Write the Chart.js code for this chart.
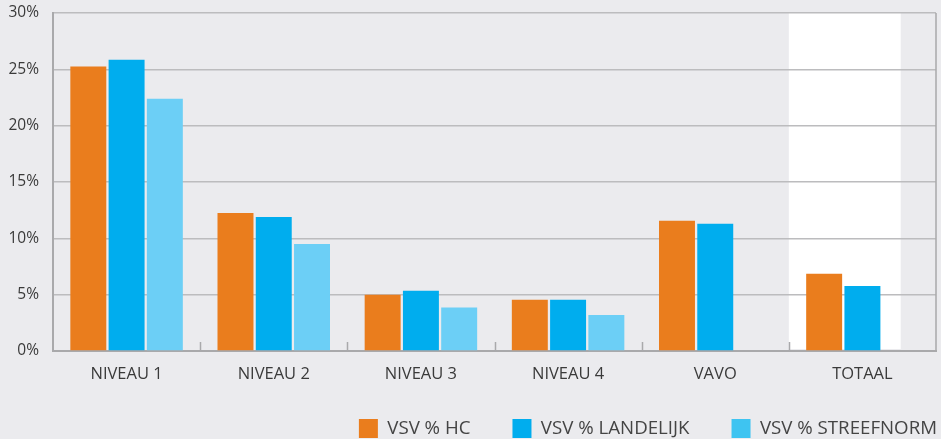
<!DOCTYPE html>
<html>
<head>
<meta charset="utf-8">
<script src="https://cdn.jsdelivr.net/npm/chart.js@4/dist/chart.umd.min.js"></script>
<style>
  html, body { margin: 0; padding: 0; background: #ebebee; }
  #wrap { width: 941px; height: 439px; position: relative; }
</style>
</head>
<body>
<div id="wrap"><canvas id="c" width="941" height="439"></canvas></div>
<script>
const categories = ['NIVEAU 1', 'NIVEAU 2', 'NIVEAU 3', 'NIVEAU 4', 'VAVO', 'TOTAAL'];
const seriesNames = ['VSV % HC', 'VSV % LANDELIJK', 'VSV % STREEFNORM'];
const vsvHC = [25.25, 12.25, 5.0, 4.55, 11.55, 6.85];
const vsvLandelijk = [25.85, 11.9, 5.35, 4.55, 11.3, 5.78];
const vsvStreefnorm = [22.4, 9.5, 3.85, 3.2, null, null];
const yTicks = [0, 5, 10, 15, 20, 25, 30];
const highlightCategory = 'TOTAAL';

const barColors = ['#ea7d1d', '#00adee', '#6ccff6'];
const legendColors = ['#ea7d1d', '#00adee', '#3ec4f1'];
const textColor = '#3a3a3a';
const gridColor = '#bcbcbe';
const axisColor = '#a9a9ab';

const framePlugin = {
  id: 'frame',
  beforeDraw(chart) {
    const {ctx, chartArea: a, scales: {x}} = chart;
    const idx = categories.indexOf(highlightCategory);
    const step = x.getPixelForValue(1) - x.getPixelForValue(0);
    const left = x.getPixelForValue(idx) - step / 2;
    ctx.save();
    ctx.fillStyle = '#ffffff';
    ctx.fillRect(left, a.top, step * 0.76, a.bottom - a.top - 2);
    ctx.restore();
  },
  afterDatasetsDraw(chart) {
    const {ctx, chartArea: a, scales: {x}} = chart;
    ctx.save();
    ctx.strokeStyle = axisColor;
    ctx.lineWidth = 1.5;
    ctx.beginPath();
    for (let i = 1; i < categories.length; i++) {
      const px = Math.round((x.getPixelForValue(i - 1) + x.getPixelForValue(i)) / 2) + 0.5;
      ctx.moveTo(px, a.bottom);
      ctx.lineTo(px, a.bottom - 9);
    }
    ctx.moveTo(a.right, a.top);
    ctx.lineTo(a.right, a.bottom);
    ctx.stroke();
    ctx.restore();
  },
  afterLayout(chart) {
    const lg = chart.legend;
    if (lg && lg.lineWidths) {
      // right-align the legend row so it ends near the canvas edge
      const total = lg.lineWidths[0];
      lg.left = chart.width - 4 - total;
      lg.right = chart.width + 400;
      lg.top -= 11;
      lg.bottom -= 11;
    }
  }
};

new Chart(document.getElementById('c'), {
  type: 'bar',
  data: {
    labels: categories,
    datasets: [
      { label: seriesNames[0], data: vsvHC, backgroundColor: barColors[0], borderWidth: 0 },
      { label: seriesNames[1], data: vsvLandelijk, backgroundColor: barColors[1], borderWidth: 0 },
      { label: seriesNames[2], data: vsvStreefnorm, backgroundColor: barColors[2], borderWidth: 0 }
    ]
  },
  options: {
    responsive: false,
    animation: false,
    devicePixelRatio: 1,
    layout: { padding: { top: 13, right: 5, left: 0, bottom: -20 } },
    datasets: { bar: { categoryPercentage: 0.78, barPercentage: 0.94 } },
    scales: {
      x: {
        grid: { display: false, drawTicks: false },
        border: { display: true, color: axisColor, width: 2 },
        ticks: { color: textColor, font: { family: 'Open Sans', size: 16.5 }, padding: 13, maxRotation: 0 },
        afterFit(s) { s.height = 37; }
      },
      y: {
        min: 0, max: 30,
        afterBuildTicks(s) { s.ticks = yTicks.map(v => ({ value: v })); },
        grid: { color: gridColor, lineWidth: 1.5, drawTicks: false },
        border: { display: true, color: axisColor, width: 2 },
        ticks: { color: textColor, font: { family: 'Open Sans', size: 15.5 }, padding: 14, callback: v => v + '%' },
        afterFit(s) { s.width = 53; s.paddingTop = 0; s.paddingBottom = 0; }
      }
    },
    plugins: {
      tooltip: { enabled: false },
      legend: {
        position: 'bottom',
        align: 'start',
        labels: {
          color: '#444444',
          font: { family: 'Open Sans', size: 18.7 },
          boxWidth: 19,
          boxHeight: 19,
          padding: 42,
          generateLabels(chart) {
            return chart.data.datasets.map((d, i) => ({
              text: d.label, fillStyle: legendColors[i], strokeStyle: legendColors[i],
              lineWidth: 0, hidden: false, datasetIndex: i, fontColor: '#444444'
            }));
          }
        }
      }
    }
  },
  plugins: [framePlugin]
});
</script>
</body>
</html>
